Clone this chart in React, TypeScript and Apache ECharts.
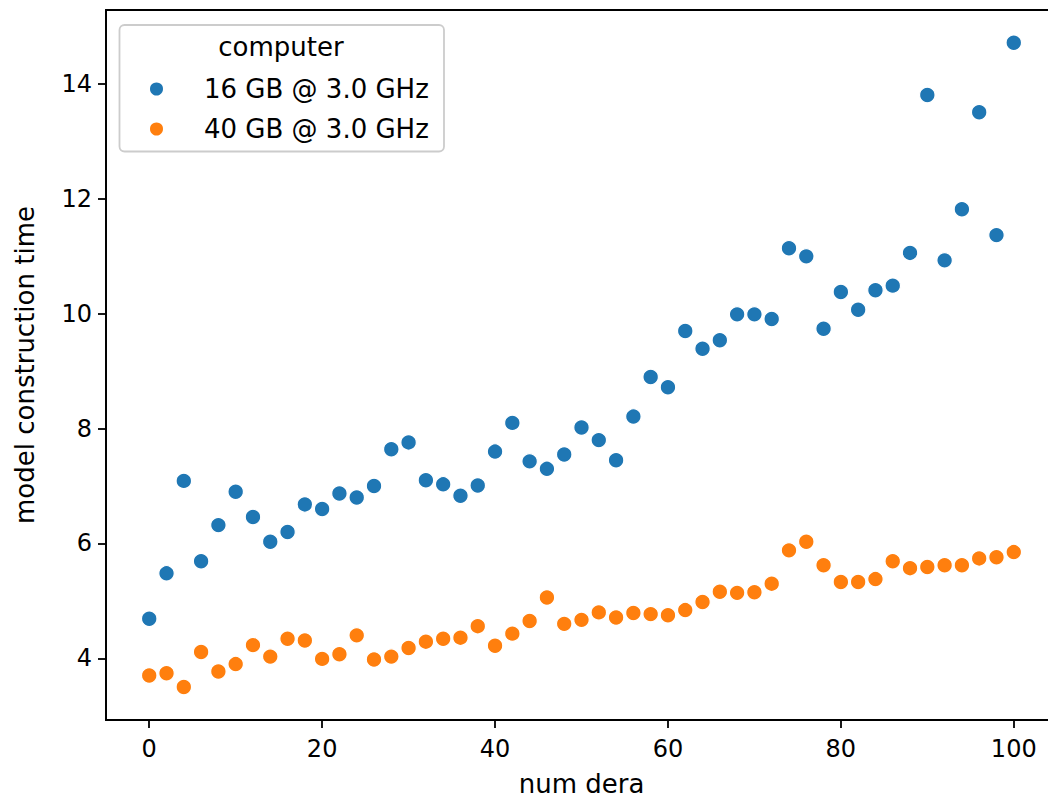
import React, { useEffect, useRef } from "react";
import * as echarts from "echarts";

const numDera: number[] = [
  0, 2, 4, 6, 8, 10, 12, 14, 16, 18, 20, 22, 24, 26, 28, 30, 32, 34, 36, 38, 40, 42, 44, 46, 48, 50,
  52, 54, 56, 58, 60, 62, 64, 66, 68, 70, 72, 74, 76, 78, 80, 82, 84, 86, 88, 90, 92, 94, 96, 98, 100,
];

const time16GB: number[] = [
  4.69, 5.48, 7.09, 5.69, 6.32, 6.9, 6.46, 6.03, 6.2, 6.68, 6.6, 6.87, 6.8, 7.0, 7.64, 7.76, 7.1,
  7.03, 6.83, 7.01, 7.6, 8.1, 7.43, 7.3, 7.55, 8.02, 7.8, 7.45, 8.21, 8.9, 8.72, 9.7, 9.39, 9.54,
  9.99, 9.99, 9.91, 11.14, 11.0, 9.74, 10.38, 10.07, 10.41, 10.49, 11.06, 13.81, 10.93, 11.82,
  13.51, 11.37, 14.72,
];

const time40GB: number[] = [
  3.7, 3.74, 3.5, 4.11, 3.77, 3.9, 4.23, 4.03, 4.34, 4.31, 3.99, 4.07, 4.4, 3.98, 4.03, 4.18, 4.29,
  4.34, 4.36, 4.56, 4.22, 4.43, 4.65, 5.06, 4.6, 4.67, 4.8, 4.71, 4.79, 4.77, 4.75, 4.84, 4.98,
  5.16, 5.14, 5.15, 5.3, 5.88, 6.03, 5.62, 5.33, 5.33, 5.38, 5.69, 5.57, 5.59, 5.62, 5.62, 5.74,
  5.76, 5.85,
];

const seriesNames: string[] = ["16 GB @ 3.0 GHz", "40 GB @ 3.0 GHz"];
const seriesColors: string[] = ["#1f77b4", "#ff7f0e"];
const xTicks: number[] = [0, 20, 40, 60, 80, 100];
const yTicks: number[] = [4, 6, 8, 10, 12, 14];

const FONT = "'DejaVu Sans', sans-serif";
const TICK_FS = 24;
const LABEL_FS = 26;
const LEGEND_FS = 26;

export default function App() {
  const ref = useRef<HTMLDivElement>(null);

  useEffect(() => {
    if (!ref.current) return;
    const chart = echarts.init(ref.current, undefined, { renderer: "svg" });
    const mk = (ys: number[]) => numDera.map((x, i) => [x, ys[i]]);
    chart.setOption({
      animation: false,
      backgroundColor: "#ffffff",
      textStyle: { fontFamily: FONT },
      grid: {
        left: 106,
        top: 10,
        right: -9,
        bottom: 79,
        show: true,
        borderColor: "#000",
        borderWidth: 1.8,
        backgroundColor: "transparent",
        containLabel: false,
        outerBoundsMode: "none",
      },
      xAxis: {
        type: "value",
        min: -5,
        max: 105,
        name: "num dera",
        nameLocation: "middle",
        nameGap: 51,
        nameTextStyle: { color: "#000", fontSize: LABEL_FS, fontFamily: FONT },
        splitLine: { show: false },
        axisLine: { show: true, onZero: false, lineStyle: { color: "#000", width: 1.8 } },
        axisTick: { show: true, length: 8, lineStyle: { color: "#000", width: 1.8 }, customValues: xTicks },
        axisLabel: {
          color: "#000",
          fontSize: TICK_FS,
          fontFamily: FONT,
          margin: 17,
          customValues: xTicks,
        },
      },
      yAxis: {
        type: "value",
        min: 2.926,
        max: 15.29,
        name: "model construction time",
        nameLocation: "middle",
        nameGap: 68,
        nameTextStyle: { color: "#000", fontSize: LABEL_FS, fontFamily: FONT },
        splitLine: { show: false },
        axisLine: { show: true, onZero: false, lineStyle: { color: "#000", width: 1.8 } },
        axisTick: { show: true, length: 8, lineStyle: { color: "#000", width: 1.8 }, customValues: yTicks },
        axisLabel: {
          color: "#000",
          fontSize: TICK_FS,
          fontFamily: FONT,
          margin: 14,
          customValues: yTicks,
        },
      },
      legend: {
        data: seriesNames,
        orient: "vertical",
        left: 148,
        top: 76,
        padding: 0,
        itemWidth: 15,
        itemHeight: 15,
        itemGap: 14,
        icon: "circle",
        selectedMode: false,
        textStyle: {
          color: "#000",
          fontSize: LEGEND_FS,
          fontFamily: FONT,
          padding: [0, 0, 0, 35],
        },
      },
      graphic: [
        {
          type: "rect",
          z: 0,
          shape: { x: 119.5, y: 25, width: 324.5, height: 126.5, r: 5 },
          style: { fill: "rgba(255,255,255,0.8)", stroke: "#cccccc", lineWidth: 1.8 },
        },
        {
          type: "text",
          z: 1,
          x: 281,
          y: 46.5,
          style: {
            text: "computer",
            fill: "#000",
            font: `${LEGEND_FS}px ${FONT}`,
            align: "center",
            verticalAlign: "middle",
          },
        },
      ],
      series: [
        {
          name: seriesNames[0],
          type: "scatter",
          data: mk(time16GB),
          symbolSize: 15.5,
          itemStyle: { color: seriesColors[0], borderColor: "#fff", borderWidth: 1.2, opacity: 1 },
        },
        {
          name: seriesNames[1],
          type: "scatter",
          data: mk(time40GB),
          symbolSize: 15.5,
          itemStyle: { color: seriesColors[1], borderColor: "#fff", borderWidth: 1.2, opacity: 1 },
        },
      ],
    });
    return () => chart.dispose();
  }, []);

  return <div ref={ref} style={{ width: 1048, height: 799, position: "absolute", left: 0, top: 0, overflow: "hidden" }} />;
}
